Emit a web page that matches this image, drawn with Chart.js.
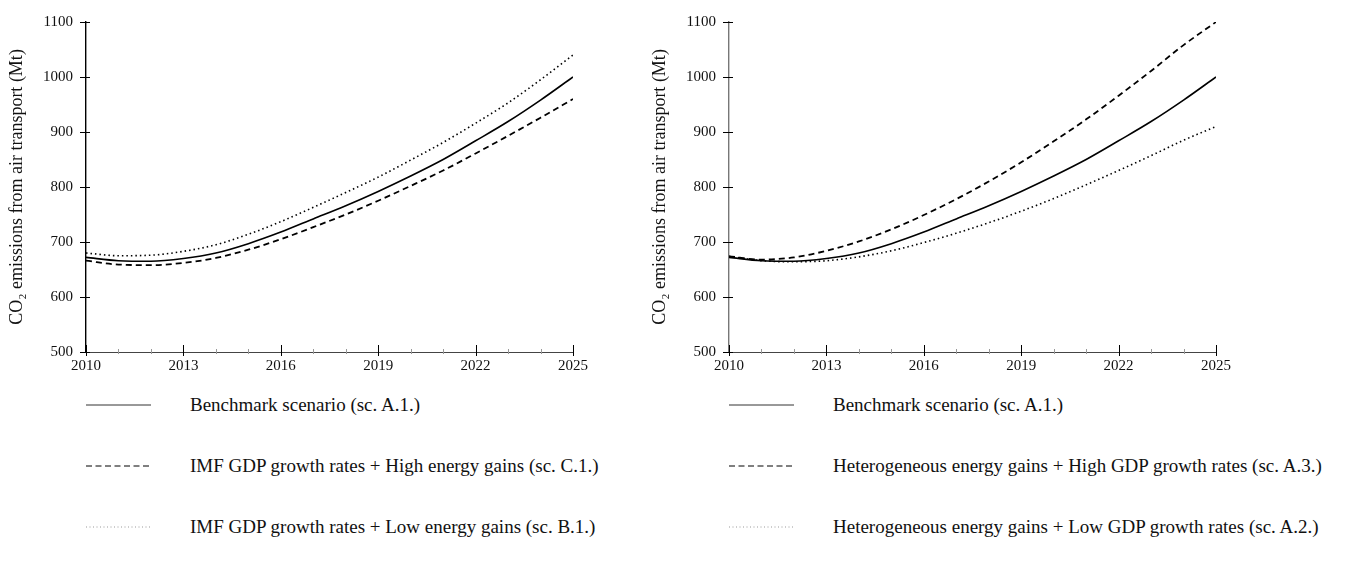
<!doctype html>
<html lang="en">
<head>
<meta charset="utf-8">
<title>CO2 emissions from air transport - scenarios</title>
<script src="https://cdn.jsdelivr.net/npm/chart.js"></script>
<style>
  body { margin: 0; background: #fff; font-family: "Liberation Serif", serif; }
  .box { position: absolute; top: 0; width: 610px; height: 380px; }
  .legend { position: absolute; top: 380px; width: 700px; }
  .row { position: absolute; left: 0; height: 22px; width: 700px; font-size: 19px; color: #111; }
  .row svg { position: absolute; left: 86px; top: 5px; }
  .row span { position: absolute; left: 190px; top: 0; line-height: 22px; white-space: nowrap; }
</style>
</head>
<body>
<div class="box" style="left:0"><canvas id="left"></canvas></div>
<div class="box" style="left:643px"><canvas id="right"></canvas></div>
<div class="legend" id="legLeft" style="left:0"></div>
<div class="legend" id="legRight" style="left:643px"></div>

<script>
// data
const years = [2010, 2011, 2012, 2013, 2014, 2015, 2016, 2017, 2018, 2019, 2020, 2021, 2022, 2023, 2024, 2025];
const xTickLabels = [2010, 2013, 2016, 2019, 2022, 2025];
const yTicks = [500, 600, 700, 800, 900, 1000, 1100];

const benchmark     = [672, 666, 665, 670, 680, 697, 718, 742, 766, 792, 820, 850, 884, 919, 958, 1000];
const imfHighEnergy = [666, 659, 658, 662, 671, 686, 705, 727, 750, 775, 802, 830, 861, 893, 926, 960];
const imfLowEnergy  = [680, 675, 676, 683, 695, 714, 737, 763, 790, 818, 849, 881, 916, 953, 995, 1040];
const hetHighGdp    = [674, 668, 672, 684, 701, 723, 749, 778, 810, 845, 883, 923, 966, 1011, 1058, 1100];
const hetLowGdp     = [674, 666, 664, 666, 673, 684, 699, 716, 735, 756, 779, 804, 830, 857, 885, 910];

const leftLabels = [
  'Benchmark scenario (sc. A.1.)',
  'IMF GDP growth rates + High energy gains (sc. C.1.)',
  'IMF GDP growth rates + Low energy gains (sc. B.1.)'
];
const rightLabels = [
  'Benchmark scenario (sc. A.1.)',
  'Heterogeneous energy gains + High GDP growth rates (sc. A.3.)',
  'Heterogeneous energy gains + Low GDP growth rates (sc. A.2.)'
];

const styles = [
  { dash: [], width: 1.6, legendColor: '#333', legendDash: '' },
  { dash: [6, 4], width: 1.8, legendColor: '#000', legendDash: '6,3.5' },
  { dash: [1.5, 3], width: 1.6, legendColor: '#999', legendDash: '1,2.5' }
];

function pts(vals) {
  return years.map((y, i) => ({ x: y, y: vals[i] }));
}

const tickPlugin = {
  id: 'crossTicks',
  afterDraw(chart) {
    const ctx = chart.ctx;
    const a = chart.chartArea;
    const xs = chart.scales.x, ys = chart.scales.y;
    ctx.save();
    ctx.lineWidth = 1;
    years.forEach(v => {
      const px = Math.round(xs.getPixelForValue(v)) + 0.5;
      const major = xTickLabels.includes(v);
      ctx.strokeStyle = major ? '#000' : '#999';
      ctx.beginPath();
      ctx.moveTo(px, a.bottom - (major ? 7 : 3));
      ctx.lineTo(px, a.bottom + (major ? 4 : 2));
      ctx.stroke();
    });
    yTicks.forEach(v => {
      const py = Math.round(ys.getPixelForValue(v)) + 0.5;
      ctx.strokeStyle = '#000';
      ctx.beginPath();
      ctx.moveTo(a.left - 6, py);
      ctx.lineTo(a.left + 4, py);
      ctx.stroke();
    });
    ctx.restore();
  }
};

function makeChart(id, series, yAxisColor) {
  return new Chart(document.getElementById(id), {
    type: 'line',
    data: {
      datasets: series.map((s, i) => ({
        data: pts(s),
        borderColor: '#000',
        borderWidth: styles[i].width,
        borderDash: styles[i].dash,
        pointRadius: 0,
        fill: false,
        cubicInterpolationMode: 'monotone'
      }))
    },
    options: {
      responsive: true,
      maintainAspectRatio: false,
      animation: false,
      layout: { padding: { top: 16, right: 37, left: 0, bottom: 0 } },
      plugins: { legend: { display: false }, tooltip: { enabled: false } },
      scales: {
        x: {
          type: 'linear',
          min: 2010,
          max: 2025,
          afterFit: s => { s.height = 28; },
          grid: { display: false, drawTicks: false },
          border: { display: true, color: '#444', width: 1 },
          ticks: {
            stepSize: 1,
            autoSkip: false,
            maxRotation: 0,
            padding: 5,
            color: '#111',
            font: { family: 'Liberation Serif', size: 15 },
            callback: v => xTickLabels.includes(v) ? String(v) : ''
          }
        },
        y: {
          min: 500,
          max: 1100,
          afterFit: s => { s.width = 86; },
          grid: { display: false, drawTicks: false },
          border: { display: true, color: yAxisColor, width: 1.4 },
          ticks: {
            stepSize: 100,
            padding: 13,
            color: '#111',
            font: { family: 'Liberation Serif', size: 15 },
            callback: v => String(v)
          },
          title: {
            display: true,
            text: 'CO₂ emissions from air transport (Mt)',
            color: '#111',
            font: { family: 'Liberation Serif', size: 18 },
            padding: { top: 6, bottom: 0 }
          }
        }
      }
    },
    plugins: [tickPlugin]
  });
}

makeChart('left', [benchmark, imfHighEnergy, imfLowEnergy], '#000');
makeChart('right', [benchmark, hetHighGdp, hetLowGdp], '#777');

function makeLegend(id, labels) {
  const el = document.getElementById(id);
  const tops = [14, 75, 136];
  labels.forEach((t, i) => {
    const row = document.createElement('div');
    row.className = 'row';
    row.style.top = tops[i] + 'px';
    const st = styles[i];
    row.innerHTML =
      '<svg width="66" height="12"><line x1="0" y1="6" x2="65" y2="6" stroke="' + st.legendColor +
      '" stroke-width="1" stroke-dasharray="' + st.legendDash + '"/></svg><span></span>';
    row.querySelector('span').textContent = t;
    el.appendChild(row);
  });
}
makeLegend('legLeft', leftLabels);
makeLegend('legRight', rightLabels);
</script>
</body>
</html>
